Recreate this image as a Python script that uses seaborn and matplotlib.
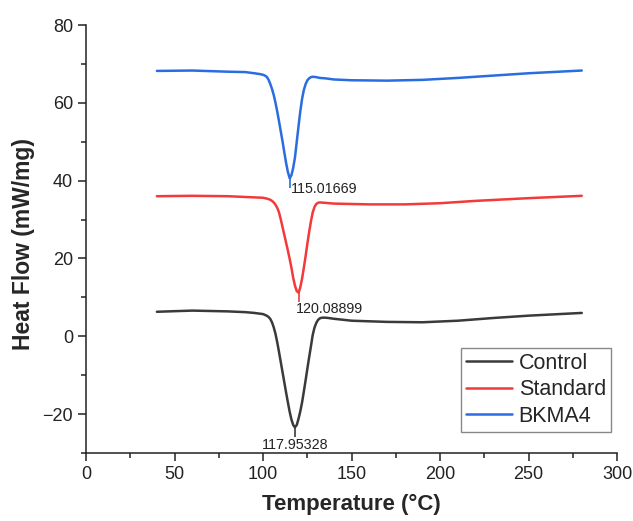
import matplotlib
matplotlib.use("Agg")
import matplotlib.pyplot as plt
from matplotlib.ticker import MultipleLocator
import pandas as pd
import seaborn as sns

# DSC curves
temp_control = [40, 60, 80, 90, 95, 100, 101, 102, 103, 104, 105, 106, 107, 108, 109, 110,
                111, 112, 113, 114, 115, 116, 117, 117.95328, 119, 120, 121, 122, 123,
                124, 125, 126, 127, 128, 129, 130, 131, 132, 133, 134, 136, 140, 150,
                170, 190, 210, 230, 250, 280]
flow_control = [6.3, 6.6, 6.4, 6.2, 6.0, 5.7, 5.5, 5.3, 5.0, 4.5, 3.6, 2.3, 0.6, -1.6, -4.1, -6.7,
                -9.3, -11.9, -14.5, -17.0, -19.4, -21.4, -22.8, -23.4, -22.8, -21.2, -19.3, -17.0, -14.2,
                -11.3, -8.3, -5.4, -2.6, 0.3, 2.2, 3.4, 4.2, 4.6, 4.75, 4.8, 4.75, 4.5, 4.0,
                3.7, 3.6, 4.0, 4.7, 5.3, 6.0]

temp_standard = [40, 60, 80, 90, 95, 100, 102, 104, 105, 106, 107, 108, 109, 110, 111, 112,
                 113, 114, 115, 116, 117, 118, 119, 120.08899, 121, 122, 123, 124, 125,
                 126, 127, 128, 129, 130, 131, 132, 135, 140, 160, 180, 200, 220,
                 250, 280]
flow_standard = [36.0, 36.1, 36.0, 35.8, 35.7, 35.6, 35.4, 35.1, 34.8, 34.4, 33.8, 33.0, 31.8, 30.0, 28.0, 26.0,
                 24.0, 22.0, 19.9, 17.6, 15.0, 13.0, 11.6, 11.2, 12.6, 14.8, 17.6, 20.6, 23.8,
                 26.8, 29.5, 31.8, 33.2, 34.0, 34.3, 34.4, 34.3, 34.1, 33.9, 33.9, 34.2, 34.8,
                 35.5, 36.1]

temp_bkma4 = [40, 60, 80, 90, 95, 98, 100, 101, 102, 103, 104, 105, 106, 107, 108, 109,
              110, 111, 112, 113, 114, 115.01669, 116, 117, 118, 119, 120, 121, 122, 123,
              124, 125, 126, 127, 128, 130, 132, 135, 140, 150, 170, 190,
              210, 230, 250, 280]
flow_bkma4 = [68.2, 68.3, 68.0, 67.9, 67.6, 67.4, 67.2, 67.0, 66.7, 66.0, 64.9, 63.6, 62.0, 60.0, 57.7, 55.2,
              52.6, 50.0, 47.2, 44.5, 42.2, 40.6, 41.4, 43.3, 46.0, 50.0, 54.0, 57.8, 61.0, 63.3,
              64.8, 65.8, 66.3, 66.6, 66.7, 66.6, 66.4, 66.3, 66.0, 65.8, 65.7, 65.9,
              66.4, 67.0, 67.6, 68.3]

sample_names = ["Control", "Standard", "BKMA4"]
sample_colors = ["#3a3a3a", "#f23a3a", "#2a6de0"]
peak_temps = [117.95328, 120.08899, 115.01669]
peak_flows = [-23.4, 11.2, 40.6]
peak_labels = ["117.95328", "120.08899", "115.01669"]

df = pd.concat([
    pd.DataFrame({"T": temp_control, "HF": flow_control, "Sample": "Control"}),
    pd.DataFrame({"T": temp_standard, "HF": flow_standard, "Sample": "Standard"}),
    pd.DataFrame({"T": temp_bkma4, "HF": flow_bkma4, "Sample": "BKMA4"}),
])

sns.set_style("ticks")
plt.rcParams["font.family"] = ["Liberation Sans", "DejaVu Sans"]

fig = plt.figure(figsize=(6.33, 5.21), dpi=100)
ax = fig.add_axes([0.136, 0.1305, 0.839, 0.8215])

sns.lineplot(data=df, x="T", y="HF", hue="Sample", hue_order=sample_names,
             palette=sample_colors, sort=False, estimator=None, linewidth=1.8, ax=ax)

# peak markers and labels
offsets = [(0, -8), (-2, -7), (1, -3)]
aligns = ["center", "left", "left"]
for t, v, lab, c, off, ha in zip(peak_temps, peak_flows, peak_labels, sample_colors, offsets, aligns):
    ax.vlines(t, v - 2.4, v, color=c, linewidth=1.2)
    ax.annotate(lab, (t, v), xytext=off, textcoords="offset points",
                ha=ha, va="top", fontsize=10.3, color="#222222")

ax.set_xlim(0, 300)
ax.set_ylim(-30, 80)
ax.xaxis.set_major_locator(MultipleLocator(50))
ax.xaxis.set_minor_locator(MultipleLocator(25))
ax.yaxis.set_major_locator(MultipleLocator(20))
ax.yaxis.set_minor_locator(MultipleLocator(10))
ax.tick_params(which="major", length=6, width=1.1, labelsize=13, colors="#222222")
ax.tick_params(which="minor", length=3.5, width=1.1, colors="#222222")
for s in ["left", "bottom"]:
    ax.spines[s].set_linewidth(1.1)
    ax.spines[s].set_color("#222222")
sns.despine(ax=ax)

ax.set_xlabel("Temperature (°C)", fontsize=16, fontweight="bold", labelpad=8)
ax.set_ylabel("Heat Flow (mW/mg)", fontsize=16.5, fontweight="bold")
ax.yaxis.set_label_coords(-0.096, 0.489)

leg = ax.legend(loc="lower right", bbox_to_anchor=(0.989, 0.049), borderaxespad=0,
                fontsize=15.5, frameon=True, fancybox=False, framealpha=1,
                edgecolor="#888888", labelspacing=0.25, handlelength=2.15,
                handletextpad=0.3, borderpad=0.25)
leg.get_frame().set_linewidth(1.0)

fig.savefig("out.png", dpi=100)
